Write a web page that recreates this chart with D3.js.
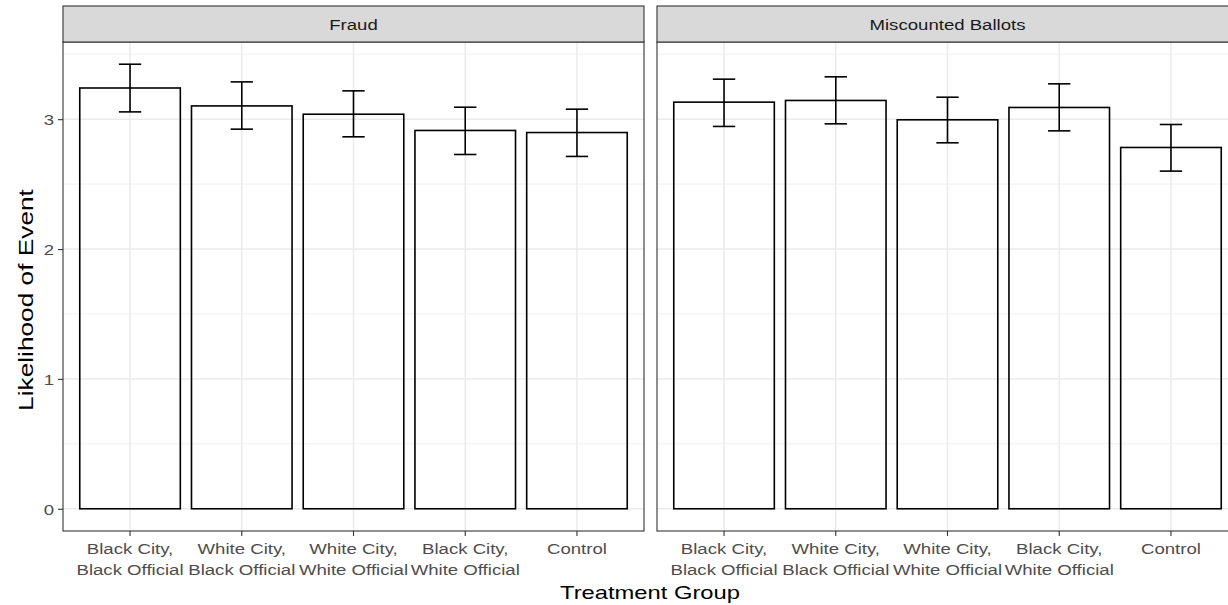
<!DOCTYPE html>
<html>
<head>
<meta charset="utf-8">
<script src="https://cdn.jsdelivr.net/npm/d3@7"></script>
<style>
  body { margin: 0; background: #fff; }
  svg { display: block; font-family: "Liberation Sans", Arial, sans-serif; }
</style>
</head>
<body>
<div id="chart"></div>
<script>
// faceted bar chart: likelihood of event by treatment group

const treatments = [
  'Black City, Black Official',
  'White City, Black Official',
  'White City, White Official',
  'Black City, White Official',
  'Control'
];
const treatmentLines = [
  ['Black City,', 'Black Official'],
  ['White City,', 'Black Official'],
  ['White City,', 'White Official'],
  ['Black City,', 'White Official'],
  ['Control']
];
const eventTypes = ['Fraud', 'Miscounted Ballots'];

const fraudMean  = [3.240, 3.102, 3.038, 2.913, 2.897];
const fraudLower = [3.056, 2.923, 2.864, 2.728, 2.713];
const fraudUpper = [3.423, 3.287, 3.218, 3.092, 3.077];

const miscountMean  = [3.131, 3.144, 2.995, 3.090, 2.782];
const miscountLower = [2.944, 2.964, 2.818, 2.910, 2.600];
const miscountUpper = [3.308, 3.326, 3.169, 3.272, 2.959];

const yTicks = [0, 1, 2, 3];
const yMinor = [0.5, 1.5, 2.5, 3.5];

const W = 1228, H = 605;
const panelTop = 42, panelBottom = 531;
const stripTop = 6;
const panelLefts = [63, 657];
const panelW = 581;
const K = 1.2;  // glyphs in the reference are a bit wider than plain Arial

const panels = [
  { name: eventTypes[0], mean: fraudMean, lo: fraudLower, hi: fraudUpper },
  { name: eventTypes[1], mean: miscountMean, lo: miscountLower, hi: miscountUpper }
];

const yMax = d3.max([...fraudUpper, ...miscountUpper]);
const pad = yMax * 0.05;
const y = d3.scaleLinear().domain([-pad, yMax + pad]).range([panelBottom, panelTop]);

const svg = d3.select('#chart').append('svg')
  .attr('width', W).attr('height', H);

function stretchedText(sel, x, yy, txt, opts = {}) {
  const rot = opts.rotate ? ` rotate(${opts.rotate})` : '';
  const k = opts.k || K;
  return sel.append('text')
    .attr('transform', `translate(${x},${yy})${rot} scale(${k},1)`)
    .attr('text-anchor', opts.anchor || 'middle')
    .attr('font-size', opts.size || '15.5px')
    .attr('fill', opts.fill || '#4D4D4D')
    .text(txt);
}

panels.forEach((p, pi) => {
  const x0 = panelLefts[pi];
  const x = d3.scaleBand().domain(treatments)
    .range([x0, x0 + panelW]).paddingInner(0.1).paddingOuter(0.15);
  const step = x.step();
  const cx = d => x(d) + x.bandwidth() / 2;

  const g = svg.append('g');

  // grid
  g.selectAll('.minor').data(yMinor).join('line')
    .attr('x1', x0).attr('x2', x0 + panelW)
    .attr('y1', d => y(d)).attr('y2', d => y(d))
    .attr('stroke', '#EBEBEB').attr('stroke-width', 0.8);
  g.selectAll('.major').data(yTicks).join('line')
    .attr('x1', x0).attr('x2', x0 + panelW)
    .attr('y1', d => y(d)).attr('y2', d => y(d))
    .attr('stroke', '#EBEBEB').attr('stroke-width', 1.5);
  g.selectAll('.vgrid').data(treatments).join('line')
    .attr('x1', cx).attr('x2', cx)
    .attr('y1', panelTop).attr('y2', panelBottom)
    .attr('stroke', '#EBEBEB').attr('stroke-width', 1.5);

  // bars
  g.selectAll('.bar').data(treatments).join('rect')
    .attr('x', d => x(d))
    .attr('y', (d, i) => y(p.mean[i]))
    .attr('width', x.bandwidth())
    .attr('height', (d, i) => y(0) - y(p.mean[i]))
    .attr('fill', 'none').attr('stroke', '#000').attr('stroke-width', 1.6);

  // error bars
  const half = step * 0.1;
  const eb = g.selectAll('.err').data(treatments).join('g');
  eb.append('line')
    .attr('x1', cx).attr('x2', cx)
    .attr('y1', (d, i) => y(p.lo[i])).attr('y2', (d, i) => y(p.hi[i]));
  eb.append('line')
    .attr('x1', d => cx(d) - half).attr('x2', d => cx(d) + half)
    .attr('y1', (d, i) => y(p.hi[i])).attr('y2', (d, i) => y(p.hi[i]));
  eb.append('line')
    .attr('x1', d => cx(d) - half).attr('x2', d => cx(d) + half)
    .attr('y1', (d, i) => y(p.lo[i])).attr('y2', (d, i) => y(p.lo[i]));
  eb.selectAll('line').attr('stroke', '#000').attr('stroke-width', 1.6);

  // panel border
  g.append('rect')
    .attr('x', x0).attr('y', panelTop)
    .attr('width', panelW).attr('height', panelBottom - panelTop)
    .attr('fill', 'none').attr('stroke', '#333333').attr('stroke-width', 1.1);

  // strip
  g.append('rect')
    .attr('x', x0).attr('y', stripTop)
    .attr('width', panelW).attr('height', panelTop - stripTop)
    .attr('fill', '#D9D9D9').attr('stroke', '#333333').attr('stroke-width', 1.1);
  stretchedText(g, x0 + panelW / 2, (stripTop + panelTop) / 2 + 5.5, p.name, { fill: '#1A1A1A' });

  // x axis
  const xa = g.append('g')
    .attr('transform', `translate(0,${panelBottom})`)
    .call(d3.axisBottom(x).tickSize(5).tickSizeOuter(0).tickFormat(''));
  xa.select('.domain').remove();
  xa.selectAll('.tick line').attr('stroke', '#333333').attr('stroke-width', 1.1);
  treatments.forEach((t, i) => {
    treatmentLines[i].forEach((line, li) => {
      stretchedText(g, cx(t), 554 + li * 20.5, line);
    });
  });

  // y axis only on first panel
  if (pi === 0) {
    const ya = g.append('g')
      .attr('transform', `translate(${x0},0)`)
      .call(d3.axisLeft(y).tickValues(yTicks).tickFormat(d3.format('d'))
        .tickSize(5).tickSizeOuter(0));
    ya.select('.domain').remove();
    ya.selectAll('.tick line').attr('stroke', '#333333').attr('stroke-width', 1.1);
    ya.selectAll('.tick text')
      .attr('x', -9 / K)
      .attr('dy', '0.36em')
      .attr('transform', `scale(${K},1)`)
      .attr('font-size', '15.5px')
      .attr('font-family', '"Liberation Sans", Arial, sans-serif')
      .attr('fill', '#4D4D4D');
  }
});

// axis titles
stretchedText(svg, 650, 599, 'Treatment Group', { size: '19px', fill: '#000', k: 1.25 });
stretchedText(svg, 33, 300, 'Likelihood of Event', { size: '21px', fill: '#000', k: 1.25, rotate: -90 });
</script>
</body>
</html>
